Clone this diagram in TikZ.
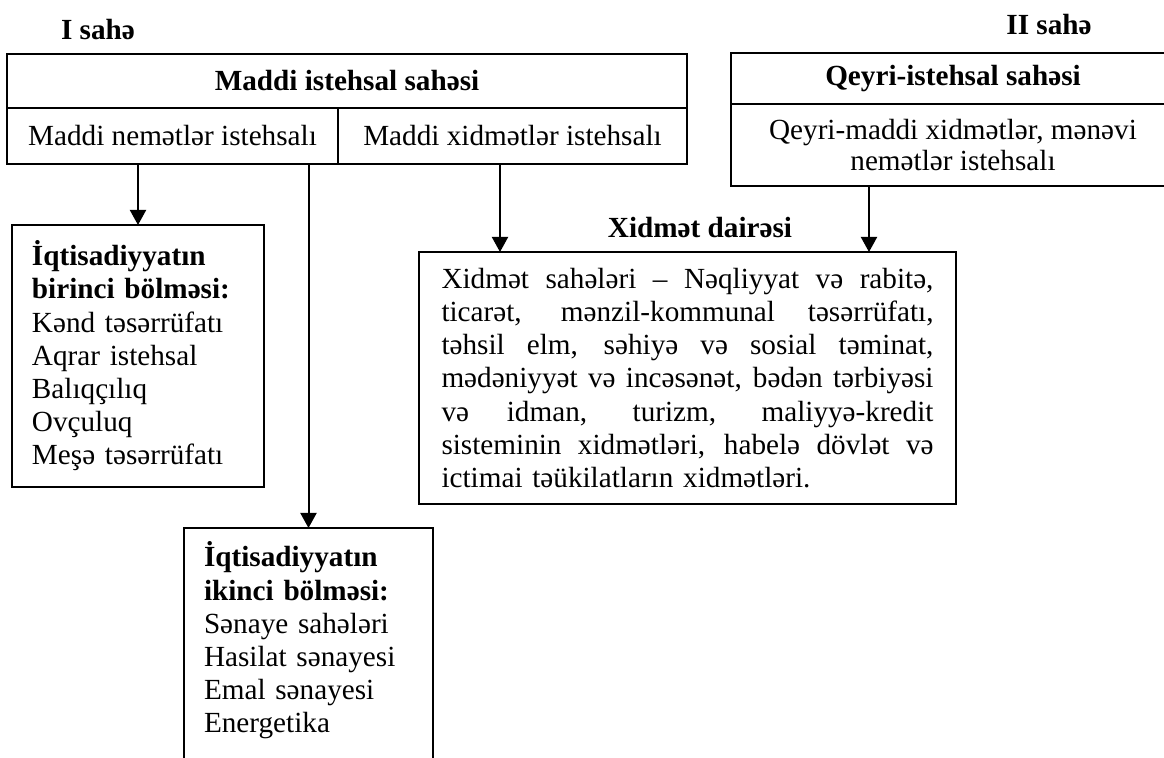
\documentclass[tikz,border=0pt]{standalone}
\usepackage{fontspec}
\setmainfont{Liberation Serif}
\usetikzlibrary{arrows.meta, calc}

\newcommand{\bsize}{\fontsize{14.6}{16.6}\selectfont}
% one justified line of the service box
\newcommand{\jl}[1]{\hbox to 246pt{\spaceskip=0.25em plus 1fil\relax #1}}

\tikzset{
  every node/.style={font=\bsize},
  head/.style={font=\bsize\bfseries},
  cell/.style={draw, line width=1pt, inner sep=0pt, outer sep=0pt, align=center},
  listbox/.style={draw, line width=1pt, anchor=north, align=left,
    inner xsep=10pt, inner ysep=6pt, outer sep=0pt},
  arr/.style={line width=1pt, -{Triangle[length=7.5pt, width=8pt]}},
}

\begin{document}
\begin{tikzpicture}[x=0.5pt, y=-0.5pt]
  \path[use as bounding box] (0,0) rectangle (1164,758);
  \clip (0,0) rectangle (1164,758);

  % sahələr
  \node[head] (s1) at (98,30) {I sahə};
  \node[head] (s2) at (1049,25) {II sahə};

  % maddi istehsal sahəsi
  \node[cell, head, minimum width=340pt, minimum height=27pt] (mis) at (347,81) {Maddi istehsal sahəsi};
  \node[cell, minimum width=165.5pt, minimum height=28pt, anchor=north west] (mne) at (mis.south west) {Maddi nemətlər istehsalı};
  \node[cell, minimum width=174.5pt, minimum height=28pt, anchor=north east] (mxi) at (mis.south east) {Maddi xidmətlər istehsalı};

  % qeyri-istehsal sahəsi (sağda kəsilir)
  \node[cell, head, minimum width=222pt, minimum height=25.5pt] (qis) at (953,78.5) {Qeyri-istehsal sahəsi};
  \node[cell, minimum width=222pt, minimum height=41pt, anchor=north] (qmx) at (qis.south) {Qeyri-maddi xidmətlər, mənəvi\\[-1.5pt]nemətlər istehsalı};

  % bölmələr
  \node[listbox, text width=106pt, minimum height=131pt] (bir) at (138,225) {\textbf{İqtisadiyyatın}\\\textbf{birinci bölməsi:}\\Kənd təsərrüfatı\\Aqrar istehsal\\Balıqçılıq\\Ovçuluq\\Meşə təsərrüfatı};
  \node[listbox, text width=104.5pt, minimum height=131pt] (iki) at (308.5,528) {\textbf{İqtisadiyyatın}\\\textbf{ikinci bölməsi:}\\Sənaye sahələri\\Hasilat sənayesi\\Emal sənayesi\\Energetika\\\strut};

  % xidmət dairəsi
  \node[head] (xd) at (700,228) {Xidmət dairəsi};
  \node[listbox, text width=246pt, inner xsep=11.25pt, minimum height=126pt] (xid) at (687.5,252) {%
    \jl{Xidmət sahələri – Nəqliyyat və rabitə,}
    \jl{ticarət, mənzil-kommunal təsərrüfatı,}
    \jl{təhsil elm, səhiyə və sosial təminat,}
    \jl{mədəniyyət və incəsənət, bədən tərbiyəsi}
    \jl{və idman, turizm, maliyyə-kredit}
    \jl{sisteminin xidmətləri, habelə dövlət və}
    ictimai təükilatların xidmətləri.};

  % oxlar
  \coordinate (xa) at (500,0);
  \coordinate (xb) at (869,0);
  \draw[arr] (mne.south -| bir.north) -- (bir.north);
  \draw[arr] (mne.south -| iki.north) -- (iki.north);
  \draw[arr] (mxi.south -| xa) -- (xid.north -| xa);
  \draw[arr] (qmx.south -| xb) -- (xid.north -| xb);
\end{tikzpicture}
\end{document}
